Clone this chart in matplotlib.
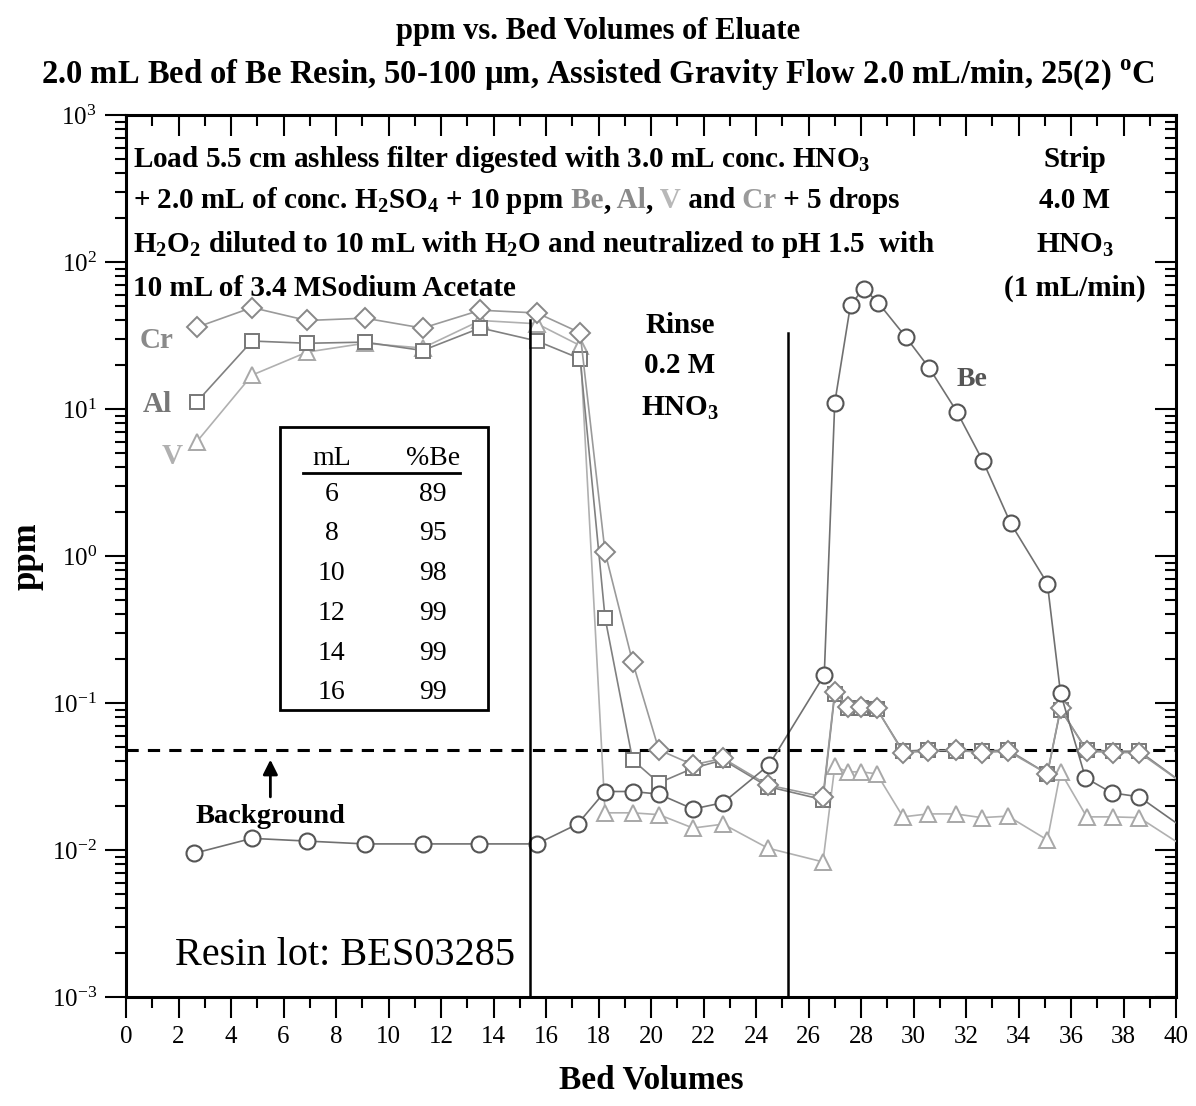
import matplotlib
matplotlib.use("Agg")
from matplotlib import pyplot as plt
from matplotlib.patches import Rectangle
import numpy as np

plt.rcParams["font.family"] = ["Liberation Serif", "DejaVu Serif"]

# ---- data ----
be_x = [2.6, 4.8, 6.9, 9.1, 11.3, 13.45, 15.65, 17.2, 18.25, 19.3, 20.3, 21.6, 22.75,
        24.5, 26.6, 27.0, 27.6, 28.1, 28.65, 29.7, 30.6, 31.65, 32.65, 33.7, 35.1, 35.6,
        36.55, 37.55, 38.6, 40.7]
be_y = [0.0095, 0.012, 0.0115, 0.011, 0.011, 0.011, 0.011, 0.015, 0.025, 0.025, 0.024,
        0.019, 0.021, 0.038, 0.155, 11, 51, 66, 53, 31, 19, 9.6, 4.4, 1.67, 0.65, 0.117,
        0.031, 0.0245, 0.023, 0.0125]

frac_x = [2.7, 4.8, 6.9, 9.1, 11.3, 13.5, 15.66, 17.3, 18.25, 19.3, 20.3, 21.6, 22.75,
          24.45, 26.55, 27.0, 27.5, 28.0, 28.6, 29.6, 30.55, 31.6, 32.6, 33.6, 35.1, 35.6,
          36.6, 37.6, 38.6, 40.7]
cr_y = [36, 49, 40, 41.5, 35.5, 47, 45, 33, 1.06, 0.19, 0.048, 0.038, 0.042, 0.0277,
        0.023, 0.119, 0.094, 0.094, 0.092, 0.046, 0.047, 0.048, 0.046, 0.047, 0.033,
        0.092, 0.047, 0.046, 0.046, 0.025]
al_y = [11.2, 29, 28, 28.5, 25, 35.6, 29, 22, 0.38, 0.041, 0.0286, 0.036, 0.041, 0.027,
        0.022, 0.115, 0.093, 0.093, 0.091, 0.047, 0.048, 0.047, 0.047, 0.048, 0.033,
        0.09, 0.048, 0.047, 0.047, 0.025]
v_y = [6.0, 17, 24.4, 28, 26, 40, 38, 27, 0.0179, 0.0179, 0.0174, 0.0141, 0.015,
       0.0103, 0.0083, 0.037, 0.034, 0.034, 0.033, 0.0168, 0.0176, 0.0176, 0.0166,
       0.017, 0.0117, 0.034, 0.0168, 0.0168, 0.0166, 0.0095]

background = 0.048
rinse_start = 15.4
strip_start = 25.2

table_ml = ["6", "8", "10", "12", "14", "16"]
table_pct = ["89", "95", "98", "99", "99", "99"]

W, H = 1196, 1106
fig = plt.figure(figsize=(W / 100, H / 100), dpi=100)
ax = fig.add_axes([126 / W, 1 - 997 / H, 1050 / W, 882 / H])

# series
ax.plot(frac_x, v_y, color="#b0b0b0", lw=1.2, marker="^", ms=12, mfc="white",
        mec="#a8a8a8", mew=1.4, zorder=3)
ax.plot(frac_x, al_y, color="#808080", lw=1.2, marker="s", ms=10.5, mfc="white",
        mec="#777777", mew=1.4, zorder=4)
ax.plot(frac_x, cr_y, color="#9a9a9a", lw=1.2, marker="D", ms=10, mfc="white",
        mec="#888888", mew=1.4, zorder=5)
ax.plot(be_x, be_y, color="#707070", lw=1.2, marker="o", ms=11.5, mfc="white",
        mec="#555555", mew=1.5, zorder=6)

ax.axhline(background, color="black", lw=2.2, ls=(0, (4, 3)), zorder=2)
ax.plot([rinse_start, rinse_start], [1e-3, 40], color="black", lw=1.8, zorder=7)
ax.plot([strip_start, strip_start], [1e-3, 33], color="black", lw=1.8, zorder=7)

ax.set_yscale("log")
ax.set_xlim(0, 40)
ax.set_ylim(1e-3, 1e3)
ax.set_xticks(np.arange(0, 41, 2))
ax.set_xticks(np.arange(0, 41, 1), minor=True)
ax.set_yticks([1e-3, 1e-2, 1e-1, 1e0, 1e1, 1e2, 1e3])
ax.set_yticklabels([r"$\mathregular{10^{%d}}$" % e for e in range(-3, 4)])
ax.tick_params(which="both", labelsize=18, width=1.5)
ax.tick_params(which="major", length=15, pad=6)
ax.tick_params(which="minor", length=8)
for s in ax.spines.values():
    s.set_linewidth(2.2)

# inward ticks on top and right
top = ax.secondary_xaxis("top")
top.set_xticks(np.arange(0, 41, 2))
top.set_xticks(np.arange(0, 41, 1), minor=True)
top.tick_params(which="both", direction="in", labeltop=False, width=1.5)
top.tick_params(which="major", length=15)
top.tick_params(which="minor", length=8)
right = ax.secondary_yaxis("right")
right.set_yscale("log")
right.tick_params(which="both", direction="in", labelright=False, width=1.5)
right.tick_params(which="major", length=15)
right.tick_params(which="minor", length=8)

ax.set_xlabel("Bed Volumes", fontsize=24, fontweight="bold", labelpad=12)
ax.set_ylabel("ppm", fontsize=25, fontweight="bold", labelpad=6)

fig.text(0.5, 1 - 31 / H, "ppm vs. Bed Volumes of Eluate", ha="center", va="center",
         fontsize=22, fontweight="bold")
fig.text(0.5, 1 - 75 / H,
         r"2.0 mL Bed of Be Resin, 50-100 µm, Assisted Gravity Flow 2.0 mL/min, 25(2) $^\mathregular{o}$C",
         ha="center", va="center", fontsize=23.5, fontweight="bold")

# conditions text, drawn piece by piece so the element names can be grey
renderer = fig.canvas.get_renderer()
lines = [
    [("Load 5.5 cm ashless filter digested with 3.0 mL conc. HNO$_\\mathregular{3}$", "black")],
    [("+ 2.0 mL of conc. H$_\\mathregular{2}$SO$_\\mathregular{4}$ + 10 ppm", "black"),
     (" Be", "#8a8a8a"), (",", "black"), (" Al", "#8a8a8a"), (",", "black"),
     (" V", "#b8b8b8"), (" and", "black"), (" Cr", "#9a9a9a"), (" + 5 drops", "black")],
    [("H$_\\mathregular{2}$O$_\\mathregular{2}$ diluted to 10 mL with H$_\\mathregular{2}$O and neutralized to pH 1.5  with", "black")],
    [("10 mL of 3.4 MSodium Acetate", "black")],
]
baselines = [167, 208, 252, 296]
for segs, yb in zip(lines, baselines):
    xp = 133
    for txt, col in segs:
        t = fig.text(xp / W, 1 - yb / H, txt, color=col, fontsize=21,
                     fontweight="bold", ha="left", va="baseline", zorder=10)
        xp = t.get_window_extent(renderer).x1

for txt, yb in [("Strip", 167), ("4.0 M", 208), ("HNO$_\\mathregular{3}$", 252),
                ("(1 mL/min)", 296)]:
    fig.text(1075 / W, 1 - yb / H, txt, ha="center", va="baseline", fontsize=21,
             fontweight="bold")
for txt, yb in [("Rinse", 333), ("0.2 M", 373), ("HNO$_\\mathregular{3}$", 415)]:
    fig.text(680 / W, 1 - yb / H, txt, ha="center", va="baseline", fontsize=21,
             fontweight="bold")

fig.text(157 / W, 1 - 348 / H, "Cr", fontsize=21, fontweight="bold", color="#8a8a8a",
         ha="center", va="baseline")
fig.text(157 / W, 1 - 412 / H, "Al", fontsize=21, fontweight="bold", color="#777777",
         ha="center", va="baseline")
fig.text(172 / W, 1 - 464 / H, "V", fontsize=21, fontweight="bold", color="#b0b0b0",
         ha="center", va="baseline")
fig.text(972 / W, 1 - 386 / H, "Be", fontsize=20, fontweight="bold", color="#555555",
         ha="center", va="baseline")

# background marker
ax.annotate("", xy=(5.5, 0.043), xytext=(5.5, 0.022),
            arrowprops=dict(arrowstyle="-|>", lw=2, color="black", mutation_scale=22))
ax.text(5.5, 0.0168, "Background", ha="center", va="center", fontsize=20.5,
        fontweight="bold")

ax.text(0.047, 0.0465, "Resin lot: BES03285", transform=ax.transAxes, fontsize=29,
        ha="left", va="center")

# inset table of Be recovery
ax.add_patch(Rectangle((0.147, 0.325), 0.198, 0.321, transform=ax.transAxes,
                       fill=False, lw=2, ec="black", zorder=8))
ax.text(0.196, 0.611, "mL", transform=ax.transAxes, ha="center", va="center", fontsize=20)
ax.text(0.292, 0.611, "%Be", transform=ax.transAxes, ha="center", va="center", fontsize=20)
ax.plot([0.169, 0.318], [0.594, 0.594], transform=ax.transAxes, color="black", lw=2)
for i, (m, p) in enumerate(zip(table_ml, table_pct)):
    yy = 0.570 - 0.045 * i
    ax.text(0.196, yy, m, transform=ax.transAxes, ha="center", va="center", fontsize=20)
    ax.text(0.292, yy, p, transform=ax.transAxes, ha="center", va="center", fontsize=20)

fig.savefig("out.png", dpi=100)
